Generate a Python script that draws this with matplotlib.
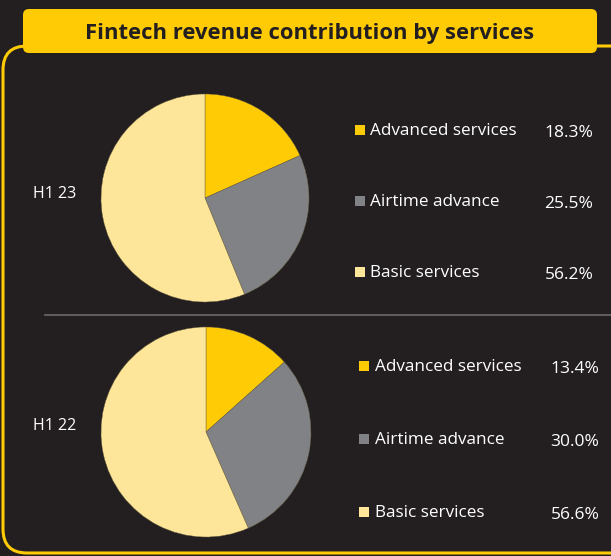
import matplotlib.pyplot as plt
from matplotlib.patches import FancyBboxPatch, Rectangle

# data
services = ['Advanced services', 'Airtime advance', 'Basic services']
h1_23 = [18.3, 25.5, 56.2]
h1_22 = [13.4, 30.0, 56.6]
periods = ['H1 23', 'H1 22']
colors = ['#FFCB05', '#808285', '#FDE599']

bg = '#231F20'
W, H = 611, 556

plt.rcParams['font.family'] = ['Open Sans', 'DejaVu Sans']

fig = plt.figure(figsize=(W / 100, H / 100), dpi=100)
fig.patch.set_facecolor(bg)

# background axes in pixel coords
bgax = fig.add_axes([0, 0, 1, 1])
bgax.set_xlim(0, W)
bgax.set_ylim(H, 0)
bgax.axis('off')

# outer yellow frame
bgax.add_patch(FancyBboxPatch((3, 46), 680, 507,
                              boxstyle='round,pad=0,rounding_size=24',
                              fc='none', ec='#FFCB05', lw=2.2))
# title box
bgax.add_patch(FancyBboxPatch((23, 9), 574, 44,
                              boxstyle='round,pad=0,rounding_size=6',
                              fc='#FFCB05', ec='none'))
bgax.text(310, 33, 'Fintech revenue contribution by services', ha='center', va='center',
          fontsize=15.8, fontweight='bold', color=bg)

# divider
bgax.plot([45, W], [315, 315], color='#6a6a6a', lw=1.2)


def draw_block(values, label, cx, cy, r, label_y, sq_x, txt_x, val_x, rows_y):
    ax = fig.add_axes([(cx - r) / W, (H - cy - r) / H, 2 * r / W, 2 * r / H])
    ax.pie(values, colors=colors, startangle=90, counterclock=False,
           wedgeprops=dict(linewidth=0.3, edgecolor='#6a6040'))
    ax.set_xlim(-1, 1)
    ax.set_ylim(-1, 1)
    ax.axis('off')
    bgax.text(55, label_y, label, ha='center', va='center', fontsize=11.5, color='white')
    for name, v, c, y in zip(services, values, colors, rows_y):
        bgax.add_patch(Rectangle((sq_x, y - 5), 10, 10, fc=c, ec='none'))
        bgax.text(txt_x, y + 1, name, ha='left', va='center', fontsize=12.3, color='white')
        bgax.text(val_x, y + 3, f'{v:.1f}%', ha='center', va='center', fontsize=12.5, color='white')


draw_block(h1_23, periods[0], 205, 198, 104, 194, 355, 370, 569, [130, 201, 272])
draw_block(h1_22, periods[1], 206, 432, 105, 426, 359, 375, 575, [366, 439, 512])

fig.savefig('out.png', dpi=100, facecolor=bg)
